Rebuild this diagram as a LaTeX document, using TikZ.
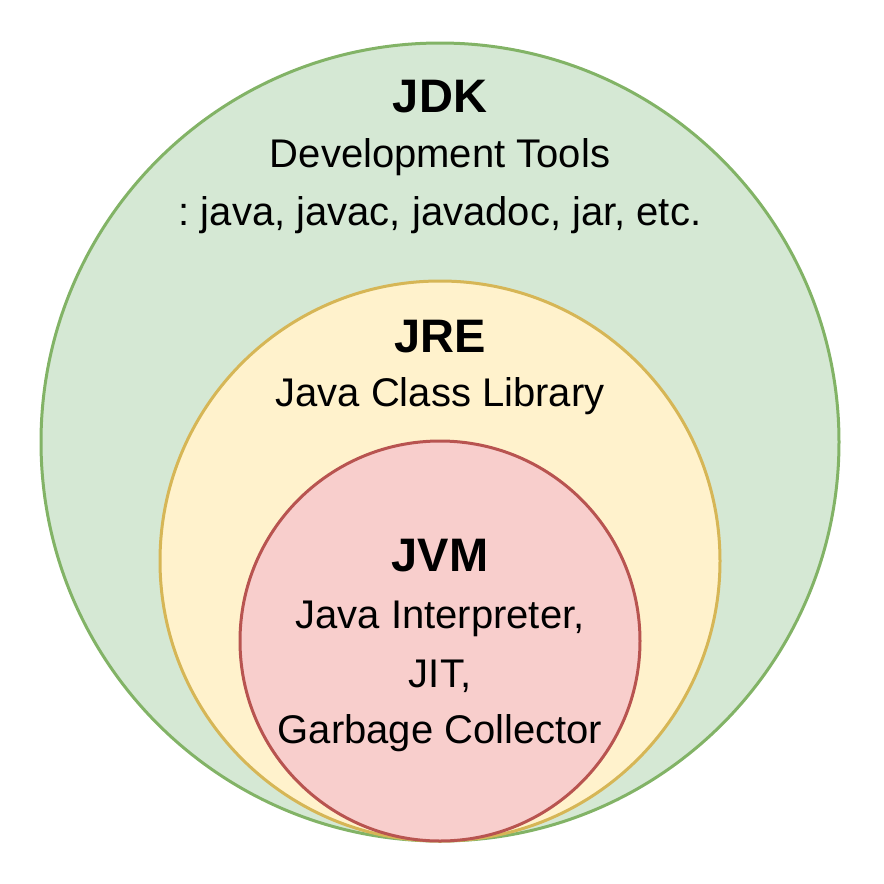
\documentclass[tikz,border=0pt]{standalone}
\usepackage{fontspec}
\setmainfont{Liberation Sans}
\usepackage{xcolor}
\usetikzlibrary{positioning}
\frenchspacing
\definecolor{GreenF}{HTML}{D5E8D4}
\definecolor{GreenD}{HTML}{82B366}
\definecolor{YellowF}{HTML}{FFF2CC}
\definecolor{YellowD}{HTML}{D6B656}
\definecolor{RedF}{HTML}{F8CECC}
\definecolor{RedD}{HTML}{B85450}

\begin{document}
\begin{tikzpicture}[x=1pt,y=-1pt,
    ring/.style={circle,line width=3pt,inner sep=0pt},
    head/.style={anchor=base,inner sep=0pt,font=\fontsize{47}{56}\selectfont\bfseries},
    body/.style={anchor=base,inner sep=0pt,font=\fontsize{40}{58}\selectfont}]
  \useasboundingbox (0,0) rectangle (884,884);
  % nested circles, all touching at the bottom
  \node[ring,draw=GreenD,fill=GreenF,minimum size=798pt] (jdk) at (440,442) {};
  \node[ring,draw=YellowD,fill=YellowF,minimum size=560pt] (jre) at (440,561) {};
  \node[ring,draw=RedD,fill=RedF,minimum size=400pt] (jvm) at (440,641) {};
  % labels
  \node[head] (jdkT) at (440,112.7) {JDK};
  \node[body] (jdkB1) at (440,167) {Development Tools};
  \node[body] (jdkB2) at (440,225) {: java, javac, javadoc, jar, etc.};
  \node[head] (jreT) at (440,352) {JRE};
  \node[body] (jreB) at (440,406.7) {Java Class Library};
  \node[head] (jvmT) at (440,571.7) {JVM};
  \node[body] (jvmB1) at (440,628) {Java Interpreter,};
  \node[body] (jvmB2) at (440,687) {JIT,};
  \node[body] (jvmB3) at (440,743) {Garbage Collector};
\end{tikzpicture}
\end{document}
